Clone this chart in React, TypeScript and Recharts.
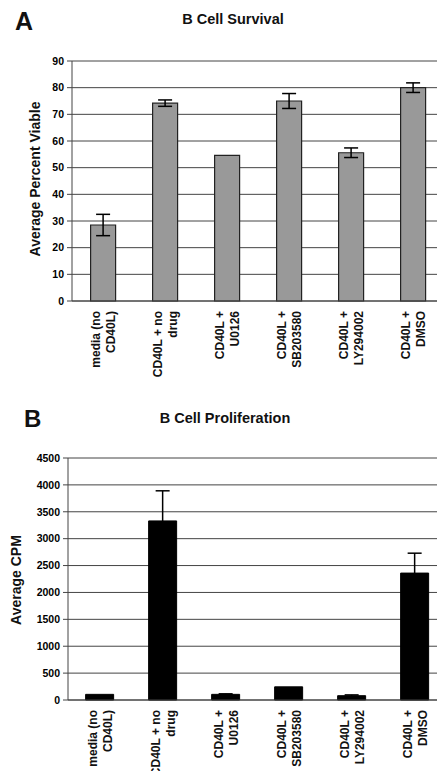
import React from "react";
import {
  BarChart,
  Bar,
  XAxis,
  YAxis,
  CartesianGrid,
  ErrorBar,
} from "recharts";

const categories = [
  "media (no\nCD40L)",
  "CD40L + no\ndrug",
  "CD40L +\nU0126",
  "CD40L +\nSB203580",
  "CD40L +\nLY294002",
  "CD40L +\nDMSO",
];

// panel A: percent viable
const survival = [28.5, 74.2, 54.6, 75, 55.6, 80];
const survivalErr = [4, 1.2, 0, 2.8, 1.8, 1.8];
const survivalTicks = [0, 10, 20, 30, 40, 50, 60, 70, 80, 90];

// panel B: CPM
const prolif = [105, 3330, 105, 245, 80, 2360];
const prolifErr = [0, 560, 10, 0, 15, 370];
const prolifTicks = [0, 500, 1000, 1500, 2000, 2500, 3000, 3500, 4000, 4500];

const edgeTicks = [0, 1, 2, 3, 4, 5, 6];

const survivalData = categories.map((name, i) => ({
  name,
  value: survival[i],
  err: survivalErr[i],
}));
const prolifData = categories.map((name, i) => ({
  name,
  value: prolif[i],
  err: prolifErr[i],
}));

const FONT = "Arial, 'Liberation Sans', sans-serif";

const RotTick = (props: any) => {
  const { x, y, payload } = props;
  const lines = String(payload.value).split("\n");
  return (
    <g transform={`translate(${x},${y})`}>
      <text
        transform="rotate(-90)"
        textAnchor="end"
        fontSize={12}
        fontWeight="bold"
        fontFamily={FONT}
        fill="#111"
      >
        {lines.map((l, i) => (
          <tspan key={i} x={-9} y={i === 0 ? -2.7 : 12.3}>
            {l}
          </tspan>
        ))}
      </text>
    </g>
  );
};

const tickStyle = { fontSize: 10.5, fontWeight: "bold", fill: "#000", fontFamily: FONT };

const abs = (left: number, top: number, extra: any = {}) => ({
  position: "absolute" as const,
  left,
  top,
  fontFamily: FONT,
  fontWeight: "bold" as const,
  color: "#111",
  whiteSpace: "nowrap" as const,
  ...extra,
});

export default function App() {
  return (
    <div
      style={{
        position: "absolute",
        left: 0,
        top: 0,
        width: 437,
        height: 771,
        overflow: "hidden",
        background: "#fff",
      }}
    >
      <div style={abs(15, 6, { fontSize: 25, lineHeight: "30px" })}>A</div>
      <div style={abs(0, 11, { width: 466, textAlign: "center", fontSize: 14.5, lineHeight: "17px" })}>
        B Cell Survival
      </div>
      <div
        style={abs(35, 179, {
          fontSize: 14,
          lineHeight: "16px",
          transform: "translate(-50%, -50%) rotate(-90deg)",
        })}
      >
        Average Percent Viable
      </div>

      <div style={{ position: "absolute", left: 0, top: 0 }}>
        <BarChart
          width={452}
          height={390}
          data={survivalData}
          margin={{ top: 61, right: 8, left: 0, bottom: 0 }}
          barCategoryGap="30%"
        >
          <CartesianGrid vertical={false} stroke="#444" strokeWidth={1} xAxisId="cat" />
          <XAxis
            xAxisId="a"
            type="number"
            domain={[0, 6]}
            ticks={edgeTicks}
            tick={false}
            tickSize={4}
            height={1}
            axisLine={{ stroke: "#444" }}
            tickLine={{ stroke: "#666" }}
          />
          <XAxis
            xAxisId="cat"
            dataKey="name"
            height={88}
            axisLine={false}
            tickLine={false}
            tickSize={0}
            tickMargin={0}
            interval={0}
            tick={<RotTick />}
          />
          <YAxis
            width={72}
            domain={[0, 90]}
            ticks={survivalTicks}
            tick={tickStyle}
            tickSize={5}
            tickMargin={3}
            axisLine={{ stroke: "#444" }}
            tickLine={{ stroke: "#444" }}
          />
          <Bar
            xAxisId="cat"
            dataKey="value"
            fill="#999"
            stroke="#222"
            strokeWidth={1.2}
            isAnimationActive={false}
          >
            <ErrorBar dataKey="err" width={7} stroke="#000" strokeWidth={1.5} />
          </Bar>
        </BarChart>
      </div>

      <div style={abs(24, 404, { fontSize: 24, lineHeight: "30px" })}>B</div>
      <div style={abs(0, 410, { width: 450, textAlign: "center", fontSize: 14.5, lineHeight: "17px" })}>
        B Cell Proliferation
      </div>
      <div
        style={abs(16, 580, {
          fontSize: 14,
          lineHeight: "16px",
          transform: "translate(-50%, -50%) rotate(-90deg)",
        })}
      >
        Average CPM
      </div>

      <div style={{ position: "absolute", left: 0, top: 400 }}>
        <BarChart
          width={454}
          height={371}
          data={prolifData}
          margin={{ top: 58, right: 8, left: 0, bottom: 0 }}
          barCategoryGap="28%"
        >
          <CartesianGrid vertical={false} stroke="#444" strokeWidth={1} xAxisId="cat" />
          <XAxis
            xAxisId="a"
            type="number"
            domain={[0, 6]}
            ticks={edgeTicks}
            tick={false}
            tickSize={4}
            height={1}
            axisLine={{ stroke: "#444" }}
            tickLine={{ stroke: "#666" }}
          />
          <XAxis
            xAxisId="cat"
            dataKey="name"
            height={70}
            axisLine={false}
            tickLine={false}
            tickSize={0}
            tickMargin={0}
            interval={0}
            tick={<RotTick />}
          />
          <YAxis
            width={68}
            domain={[0, 4500]}
            ticks={prolifTicks}
            tick={tickStyle}
            tickSize={5}
            tickMargin={3}
            axisLine={{ stroke: "#444" }}
            tickLine={{ stroke: "#444" }}
          />
          <Bar xAxisId="cat" dataKey="value" fill="#000" stroke="#000" isAnimationActive={false}>
            <ErrorBar dataKey="err" width={7} stroke="#000" strokeWidth={1.5} />
          </Bar>
        </BarChart>
      </div>
    </div>
  );
}
